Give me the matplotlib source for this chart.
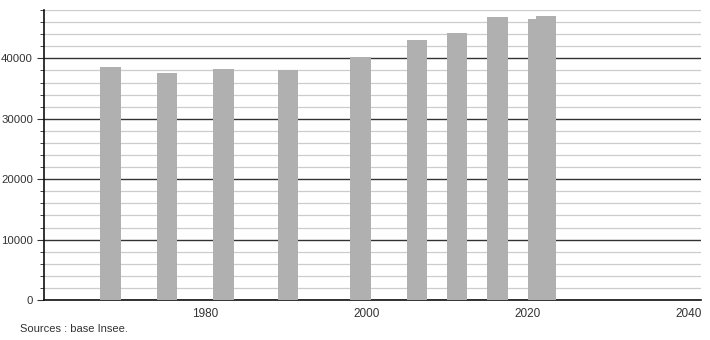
#!/usr/bin/env python3
import numpy as np
import matplotlib.pyplot as plt
from matplotlib.ticker import MultipleLocator

years = [1968, 1975, 1982, 1990, 1999, 2006, 2011, 2016, 2021, 2022]
population = [38560, 37560, 38230, 38000, 40220, 43050, 44210, 46870, 46540, 47040]
source = 'Sources : base Insee.'

plt.rcParams['font.family'] = ['Liberation Sans', 'DejaVu Sans']

fig = plt.figure(figsize=(7.1, 3.4), dpi=100)
ax = fig.add_axes([0.062, 0.1176, 0.925, 0.853])

ax.set_axisbelow(True)
ax.yaxis.set_major_locator(MultipleLocator(10000))
ax.yaxis.set_minor_locator(MultipleLocator(2000))
ax.grid(axis='y', which='minor', color='#cccccc', linewidth=0.9)
ax.grid(axis='y', which='major', color='#333333', linewidth=1)

x = np.array(years) - 1.0
ax.bar(x, population, width=2.55, align='edge', color='#b0b0b0', zorder=3)

ax.set_xlim(1960, 2041.5)
ax.set_ylim(0, 48000)
ax.set_xticks([1980, 2000, 2020, 2040])
ax.tick_params(axis='x', length=0, labelsize=8.5, pad=6, colors='#333333')
ax.tick_params(axis='y', which='major', length=5, labelsize=8.2, pad=3, colors='#333333')
ax.tick_params(axis='y', which='minor', length=3, color='#222222')

for s in ['top', 'right']:
    ax.spines[s].set_visible(False)
ax.spines['left'].set_color('#111111')
ax.spines['bottom'].set_color('#111111')
ax.spines['left'].set_linewidth(1.2)
ax.spines['bottom'].set_linewidth(1.2)

fig.text(20 / 710, 1 - 329 / 340, source, fontsize=8, color='#333333', va='center')

fig.savefig('out.png', dpi=100)
